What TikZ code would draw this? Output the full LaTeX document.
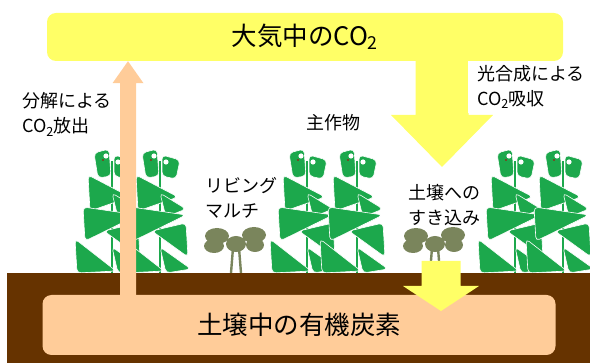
\documentclass[tikz,border=0pt]{standalone}
\usepackage{fontspec}
\setmainfont{Noto Sans CJK JP}
\usetikzlibrary{positioning,calc}

\definecolor{airyellow}{RGB}{255,255,102}
\definecolor{peach}{RGB}{255,204,153}
\definecolor{soilbrown}{RGB}{102,51,0}
\definecolor{cropgreen}{RGB}{28,168,76}
\definecolor{mulchgreen}{RGB}{122,133,92}

% block arrow: colour, tail, tip, half shaft, half head, head length
\newcommand\blockarrow[6]{%
  \fill[#1] let \p1=(#2), \p2=(#3), \p3=($(#3)!#6pt!(#2)$) in
    (\x1-#4pt,\y1) -- (\x1-#4pt,\y3) -- (\x1-#5pt,\y3) -- (\x2,\y2)
    -- (\x1+#5pt,\y3) -- (\x1+#4pt,\y3) -- (\x1+#4pt,\y1) -- cycle;}

\tikzset{
  pool/.style={rounded corners=9pt, inner sep=0pt},
  note/.style={align=left, inner sep=0pt, font=\fontsize{18}{25}\selectfont},
  leaf/.style={fill=cropgreen, draw=white, line width=0.6pt, rounded corners=4pt},
  % crop plant, origin at the foot of the stem
  crop/.pic={
    \draw[cropgreen, line width=1.8pt] (0,-112) -- (0,0);
    \filldraw[leaf] (-18,-120) -- (-3,-124) -- (-1,-97) -- (-14,-95) -- cycle;
    \filldraw[leaf] (2,-118) -- (20,-113) -- (16,-94) -- (2,-97) -- cycle;
    \fill[white] (-6,-117) circle (2.6) (6,-111) circle (2.6);
    \fill[red!70!black] (-9,-113) circle (0.8);
    \filldraw[leaf] (-24,-98) -- (18,-76) -- (-22,-62) -- cycle;
    \filldraw[leaf] (0,-80) -- (26,-64) -- (6,-56) -- cycle;
    \filldraw[leaf] (-29,-66) -- (26,-58) -- (-27,-32) -- cycle;
    \filldraw[leaf] (-8,-42) -- (26,-50) -- (28,-16) -- cycle;
    \filldraw[leaf] (-37,-34) -- (4,-2) -- (-35,0) -- cycle;
    \filldraw[leaf] (0,-26) -- (31,-4) -- (6,0) -- cycle;
  },
  % living mulch seedling, origin at ground level
  mulch/.pic={
    \draw[mulchgreen, line width=2.4pt] (-3,-25) -- (-5,0) (3,-25) -- (5,0);
    \fill[mulchgreen] (-19,-37) ellipse (12 and 8) (-22,-27) ellipse (10 and 7)
      (0,-29) ellipse (10 and 8) (18,-38) ellipse (12 and 8) (19,-28) ellipse (9 and 7);
  },
}

\begin{document}
\begin{tikzpicture}[x=1pt, y=-1pt]
\useasboundingbox (0,0) rectangle (590,363);

% crops and living mulch
\foreach \px in {112,160,307,357,515,563}
  \pic at (\px,273) {crop};
\pic at (236,273) {mulch};
\pic at (435,273) {mulch};

% soil
\fill[soilbrown] (7,273) rectangle (590,363);

% carbon pools
\node[pool, fill=airyellow, minimum width=516pt, minimum height=48pt,
  font=\fontsize{25.5}{30}\selectfont] (air) at (305,37) {大気中のCO\textsubscript{2}};
\node[pool, fill=peach, minimum width=513pt, minimum height=60pt,
  font=\fontsize{25.5}{30}\selectfont] (soc) at (299,325) {土壌中の有機炭素};

% flows
\coordinate (uplane) at (128,0);
\coordinate (photolane) at (442,0);
\coordinate (uptake) at (442,167);
\coordinate (plowin) at (441,261);
\coordinate (plowtip) at (441,311);
\blockarrow{peach}{soc.north -| uplane}{air.south -| uplane}{8}{15.5}{22}
\blockarrow{airyellow}{air.south -| photolane}{uptake}{26.5}{51}{52}
\blockarrow{airyellow}{plowin}{plowtip}{19.5}{38}{25}

% labels
\node[note, fill=white, anchor=north west, text width=104pt, inner xsep=9pt,
  minimum height=52pt] (photo) at (468,61) {光合成による\\CO\textsubscript{2}吸収};
\node[note, anchor=west] (decomp) at (22,114.5) {分解による\\CO\textsubscript{2}放出};
\node[note] (main) at (333,123) {主作物};
\node[note, anchor=west] (living) at (205,197.5) {リビング\\マルチ};
\node[note, anchor=west] (incorp) at (408,205.5) {土壌への\\すき込み};
\end{tikzpicture}
\end{document}
